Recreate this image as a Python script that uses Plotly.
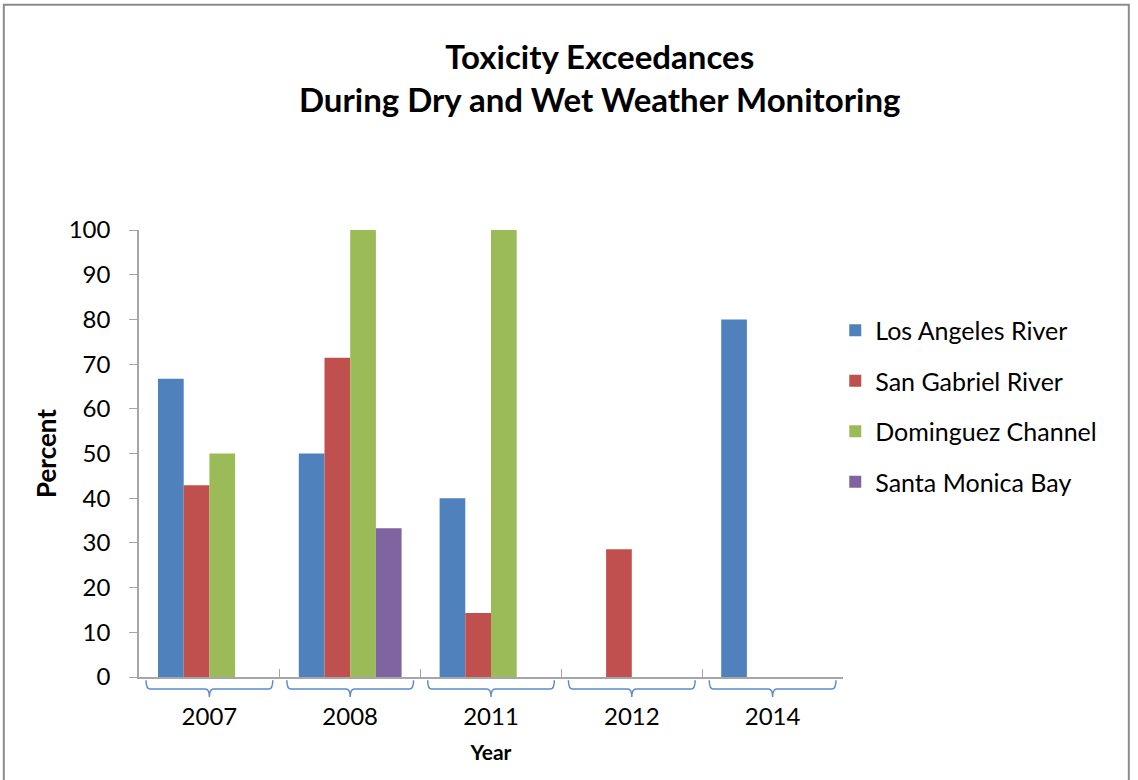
# Toxicity exceedances bar chart (Excel-style look)

import plotly.graph_objects as go


# ---- data ----
years = ["2007", "2008", "2011", "2012", "2014"]
los_angeles = [66.7, 50.0, 40.0, None, 80.0]
san_gabriel = [42.9, 71.4, 14.3, 28.6, None]
dominguez = [50.0, 100.0, 100.0, None, None]
santa_monica = [None, 33.3, None, None, None]

series = [
    ("Los Angeles River", los_angeles, "#4F81BD"),
    ("San Gabriel River", san_gabriel, "#C0504D"),
    ("Dominguez Channel", dominguez, "#9BBB59"),
    ("Santa Monica Bay", santa_monica, "#8064A2"),
]

FONT = "Lato"

fig = go.Figure()

for i, (name, vals, color) in enumerate(series):
    fig.add_trace(
        go.Bar(
            x=years,
            y=vals,
            name=name,
            legendgroup=f"g{i}",
            marker=dict(color=color, line=dict(width=0)),
        )
    )


# ---- bracket decorations under each category ----
y_top, y_mid, y_bot = -0.007, -0.027, -0.045
for i in range(len(years)):
    x0, x1, xc = i - 0.45, i + 0.45, i
    d = 0.03
    path = (
        f"M {x0},{y_top} Q {x0},{y_mid} {x0 + d},{y_mid} "
        f"L {xc - d},{y_mid} Q {xc},{y_mid} {xc},{y_bot} "
        f"Q {xc},{y_mid} {xc + d},{y_mid} "
        f"L {x1 - d},{y_mid} Q {x1},{y_mid} {x1},{y_top}"
    )
    fig.add_shape(
        type="path",
        path=path,
        xref="x",
        yref="paper",
        line=dict(color="#5B8BCB", width=1.5),
    )

# outer frame
fig.add_shape(
    type="rect",
    xref="paper",
    yref="paper",
    x0=-0.192,
    x1=1.406,
    y0=-0.5,
    y1=1.504,
    line=dict(color="#8C8C8C", width=2),
)


# ---- layout ----
fig.update_layout(
    width=1138,
    height=780,
    paper_bgcolor="white",
    plot_bgcolor="white",
    margin=dict(l=139, r=295, t=230, b=103),
    barmode="group",
    bargap=0.27,
    bargroupgap=0,
    font=dict(family=FONT, color="#000000"),
    title=dict(
        text="<b>Toxicity Exceedances<br>During Dry and Wet Weather Monitoring</b>",
        x=0.527,
        xanchor="center",
        y=0.911,
        yanchor="middle",
        font=dict(family=FONT, size=33, color="#000000"),
    ),
    legend=dict(
        x=0.989,
        xanchor="left",
        y=0.606,
        yanchor="middle",
        font=dict(family=FONT, size=25, color="#000000"),
        tracegroupgap=15,
        bgcolor="rgba(0,0,0,0)",
    ),
    showlegend=True,
)

fig.update_xaxes(
    type="category",
    showline=True,
    linecolor="#A6A6A6",
    linewidth=1.5,
    ticks="inside",
    tickson="boundaries",
    ticklen=8,
    tickcolor="#A6A6A6",
    tickfont=dict(family=FONT, size=24, color="#000000"),
    ticklabelstandoff=17,
    showgrid=False,
    title=dict(text="<b>Year</b>", font=dict(family=FONT, size=21), standoff=17),
)

fig.update_yaxes(
    range=[0, 100],
    dtick=10,
    showline=True,
    linecolor="#A6A6A6",
    linewidth=1.5,
    ticks="outside",
    ticklen=8,
    tickcolor="#A6A6A6",
    tickfont=dict(family=FONT, size=24, color="#000000"),
    ticklabelstandoff=14,
    showgrid=False,
    zeroline=False,
    title=dict(text="<b>Percent</b>", font=dict(family=FONT, size=26), standoff=5),
)

# drop the default body margin so the figure sits flush with the window
fig.write_html(
    "out.html",
    config={"displayModeBar": False},
    post_script="document.body.style.margin='0';",
)
